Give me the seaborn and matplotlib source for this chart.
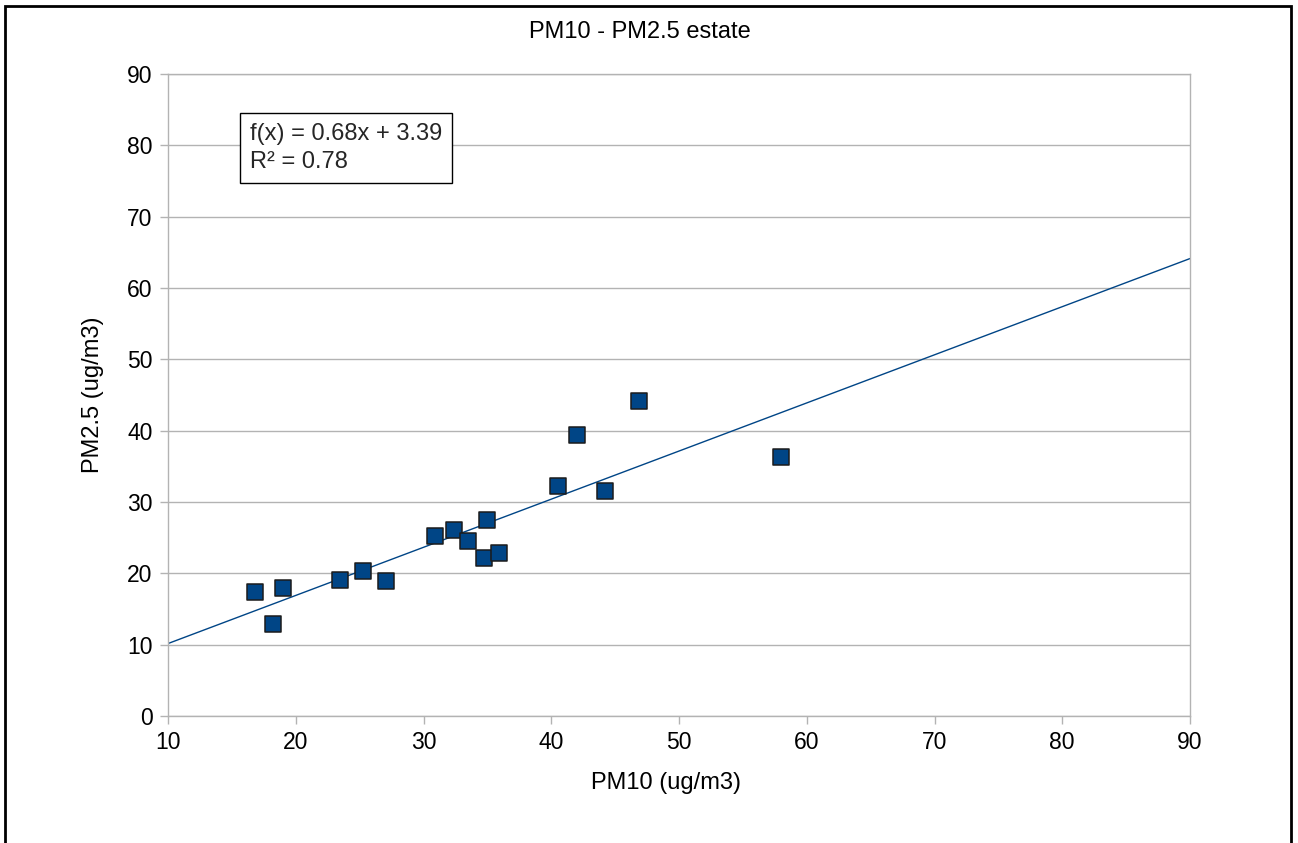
import matplotlib
matplotlib.use("Agg")
import matplotlib.pyplot as plt
import numpy as np
import pandas as pd
import seaborn as sns
from matplotlib.patches import Rectangle

# summer PM10 / PM2.5 pairs (ug/m3)
pm10 = [16.8, 19.0, 18.2, 23.5, 25.3, 27.1, 30.9, 32.4, 33.5, 35.0,
        34.7, 35.9, 40.5, 42.0, 44.2, 46.9, 58.0]
pm25 = [17.4, 18.0, 12.9, 19.1, 20.3, 18.9, 25.2, 26.1, 24.5, 27.5,
        22.1, 22.8, 32.2, 39.4, 31.6, 44.1, 36.3]
x_ticks = [10, 20, 30, 40, 50, 60, 70, 80, 90]
y_ticks = [0, 10, 20, 30, 40, 50, 60, 70, 80, 90]
fit_text = "f(x) = 0.68x + 3.39\nR² = 0.78"

BLUE = "#004586"
GRID = "#b3b3b3"

sns.set_theme(style="white")
plt.rcParams["font.family"] = ["Liberation Sans", "DejaVu Sans"]

df = pd.DataFrame({"pm10": pm10, "pm25": pm25})

fig = plt.figure(figsize=(12.98, 8.43), dpi=100)
ax = fig.add_axes([168 / 1298, 1 - 716 / 843, 1022 / 1298, 642 / 843])

ax.set_xlim(10, 90)
ax.set_ylim(0, 90)
ax.set_xticks(x_ticks)
ax.set_yticks(y_ticks)
ax.yaxis.grid(True, color=GRID, linewidth=1)
ax.set_axisbelow(True)

# trend line over the full x range, then the points on top
sns.regplot(data=df, x="pm10", y="pm25", ax=ax, ci=None, truncate=False,
            scatter=False, line_kws=dict(color=BLUE, linewidth=1, zorder=2))
sns.scatterplot(data=df, x="pm10", y="pm25", ax=ax, marker="s", s=125,
                color=BLUE, edgecolor="#1b1b1b", linewidth=1.1, zorder=3)
ax.set_xlim(10, 90)
ax.set_ylim(0, 90)

for sp in ax.spines.values():
    sp.set_color(GRID)
    sp.set_linewidth(1)

ax.tick_params(axis="both", which="major", direction="out", length=6,
               width=1, color=GRID, labelsize=16.5, labelcolor="#000000",
               pad=5, left=True, bottom=True)

ax.set_xlabel("PM10 (ug/m3)", fontsize=17, color="#000000")
ax.set_ylabel("PM2.5 (ug/m3)", fontsize=17, color="#000000")
ax.xaxis.set_label_coords((666 - 168) / 1022, -0.088)
ax.yaxis.set_label_coords(-0.0625, 0.5)

ax.text((250 - 168) / 1022, 0.924, fit_text, transform=ax.transAxes,
        fontsize=17, va="top", ha="left", linespacing=1.35,
        bbox=dict(boxstyle="square,pad=0.42", facecolor="white",
                  edgecolor="#000000", linewidth=1))

fig.text(640 / 1298, 1 - 32 / 843, "PM10 - PM2.5 estate", fontsize=17,
         ha="center", va="center", color="#000000")

# outer frame of the chart area (open at the bottom)
fig.patches.append(Rectangle((5 / 1298, -0.05), (1291 - 5) / 1298,
                             1.05 - 6 / 843, transform=fig.transFigure,
                             fill=False, edgecolor="#000000", linewidth=2))

fig.savefig("out.png", dpi=100)
